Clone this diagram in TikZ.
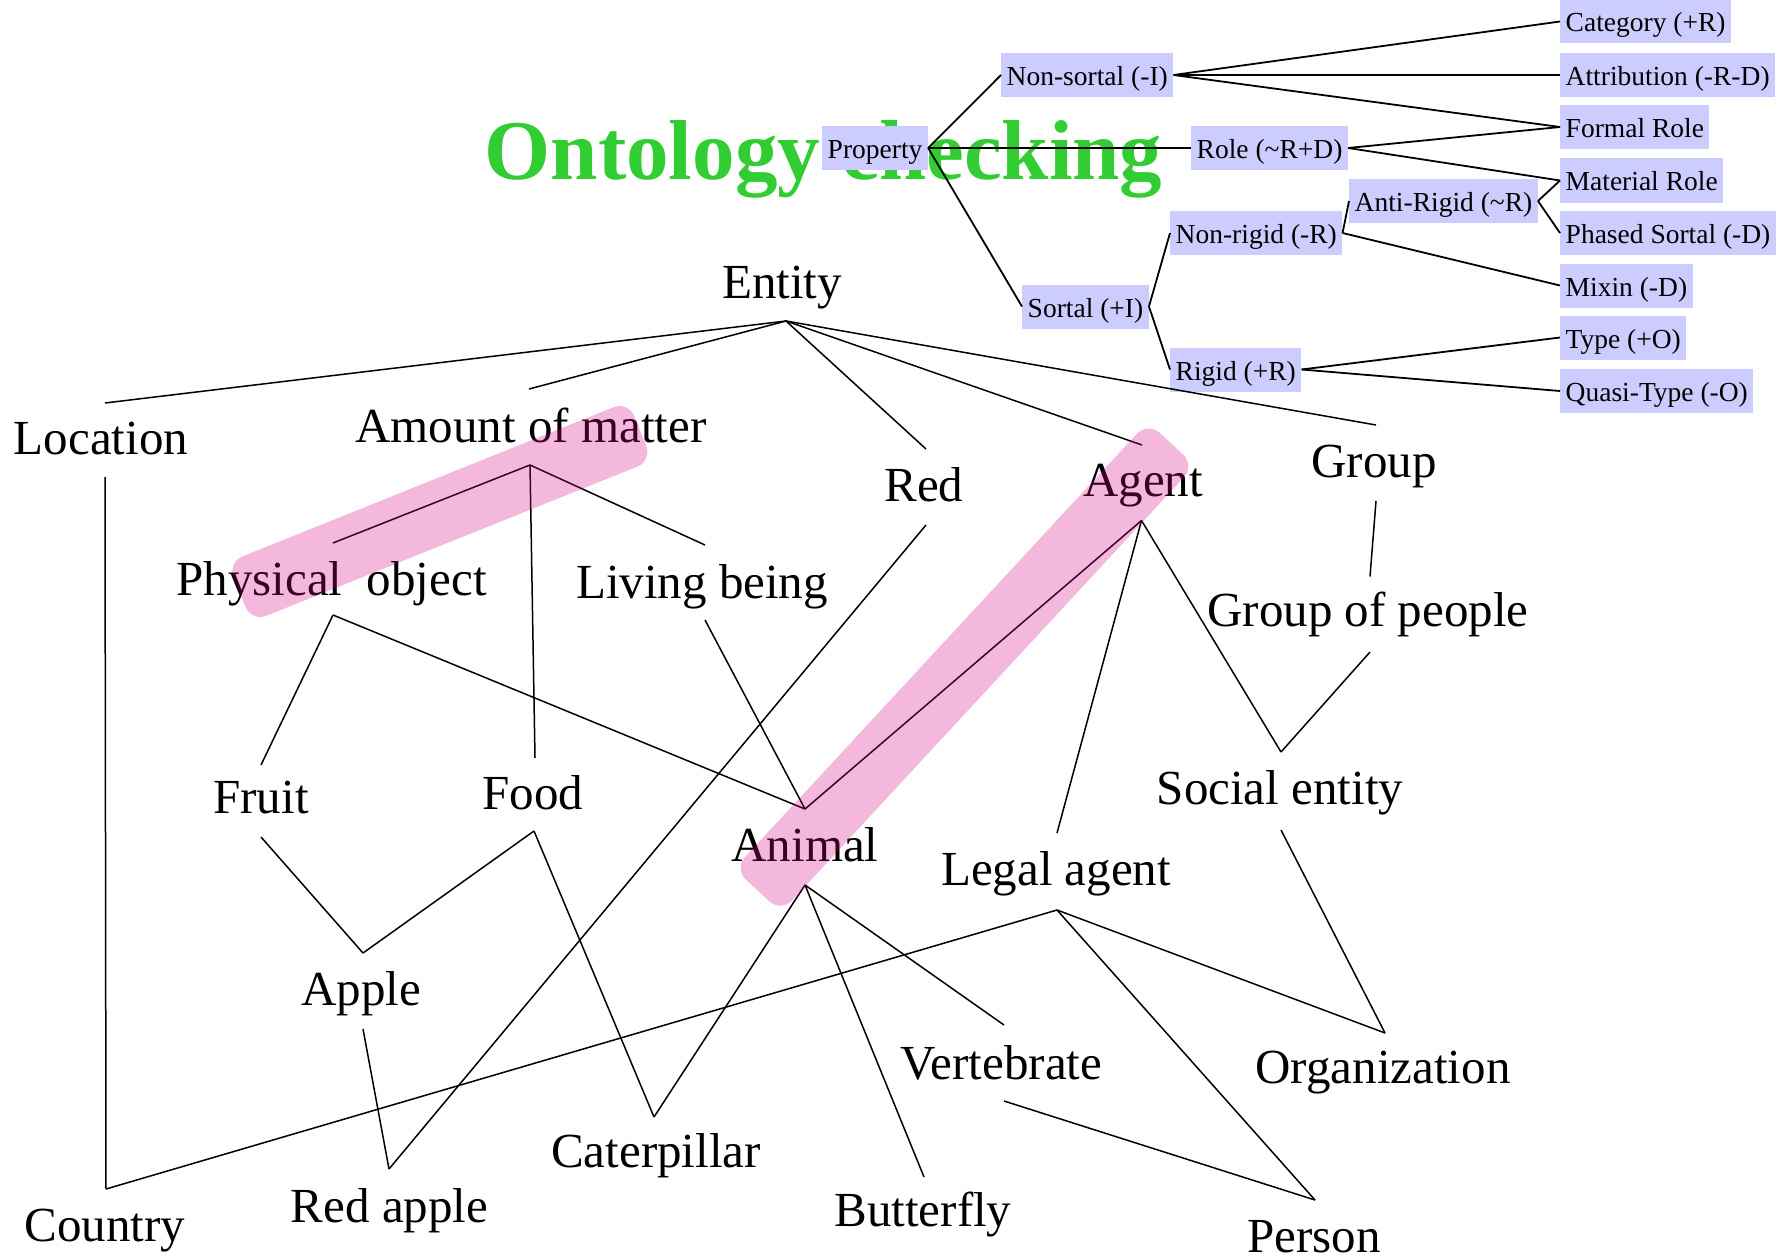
\documentclass[tikz,border=0pt]{standalone}
\usepackage{fontspec}
\setmainfont{Liberation Serif}
\definecolor{boxfill}{RGB}{204,204,255}
\definecolor{titlegreen}{RGB}{50,205,50}
\definecolor{bandpink}{RGB}{212,0,126}

\begin{document}
\begin{tikzpicture}[x=1pt,y=-1pt,
  lbl/.style={anchor=base, inner sep=0pt, font=\fontsize{49}{58}\selectfont},
  pbox/.style={anchor=west, fill=boxfill, inner xsep=5.5pt, inner ysep=7pt,
               text height=25.5pt, text depth=4.5pt, font=\fontsize{27.5}{32}\selectfont},
  edge/.style={draw=black, line width=1.5pt},
  tedge/.style={draw=black, line width=1.8pt},
  band/.style={fill=bandpink, fill opacity=0.28, rounded corners=16pt,
               inner sep=0pt, minimum height=64pt}
]
\useasboundingbox (0,0) rectangle (1779,1260);

% heading
\node[anchor=base west, inner sep=0pt, text=titlegreen,
      font=\bfseries\fontsize{85}{100}\selectfont] (title) at (484.5,179) {Ontology checking};

% property taxonomy
\node[pbox] (property)     at (822,148)   {Property};
\node[pbox] (nonsortal)    at (1001,75)   {Non-sortal (-I)};
\node[pbox] (role)         at (1191,148)  {Role (\textasciitilde R+D)};
\node[pbox] (sortal)       at (1022,306.5){Sortal (+I)};
\node[pbox] (nonrigid)     at (1170,233)  {Non-rigid (-R)};
\node[pbox] (antirigid)    at (1349,201)  {Anti-Rigid (\textasciitilde R)};
\node[pbox] (rigid)        at (1170,369.5){Rigid (+R)};
\node[pbox] (category)     at (1560,21.5) {Category (+R)};
\node[pbox] (attribution)  at (1560,75)   {Attribution (-R-D)};
\node[pbox] (formalrole)   at (1560,127)  {Formal Role};
\node[pbox] (materialrole) at (1560,180.5){Material Role};
\node[pbox] (phasedsortal) at (1560,233)  {Phased Sortal (-D)};
\node[pbox] (mixin)        at (1560,285.5){Mixin (-D)};
\node[pbox] (typeo)        at (1560,337.5){Type (+O)};
\node[pbox] (quasitype)    at (1560,391)  {Quasi-Type (-O)};

\draw[tedge] (property.east) -- (nonsortal.west);
\draw[tedge] (property.east) -- (role.west);
\draw[tedge] (property.east) -- (sortal.west);
\draw[tedge] (nonsortal.east) -- (category.west);
\draw[tedge] (nonsortal.east) -- (attribution.west);
\draw[tedge] (nonsortal.east) -- (formalrole.west);
\draw[tedge] (role.east) -- (formalrole.west);
\draw[tedge] (role.east) -- (materialrole.west);
\draw[tedge] (sortal.east) -- (nonrigid.west);
\draw[tedge] (sortal.east) -- (rigid.west);
\draw[tedge] (nonrigid.east) -- (antirigid.west);
\draw[tedge] (nonrigid.east) -- (mixin.west);
\draw[tedge] (antirigid.east) -- (materialrole.west);
\draw[tedge] (antirigid.east) -- (phasedsortal.west);
\draw[tedge] (rigid.east) -- (typeo.west);
\draw[tedge] (rigid.east) -- (quasitype.west);

% concept graph labels
\node[lbl] (entity)    at (782,298)    {Entity};
\node[lbl] (location)  at (101,454)    {Location};
\node[lbl] (amount)    at (531,442)    {Amount of matter};
\node[lbl] (red)       at (924,501)    {Red};
\node[lbl] (agent)     at (1143,496)   {Agent};
\node[lbl] (group)     at (1374,477)   {Group};
\node[lbl] (physical)  at (331.5,595)  {Physical\ \ object};
\node[lbl] (living)    at (702,598)    {Living being};
\node[lbl] (people)    at (1368,626)   {Group of people};
\node[lbl] (fruit)     at (261,813)    {Fruit};
\node[lbl] (food)      at (533,809)    {Food};
\node[lbl] (animal)    at (805,861)    {Animal};
\node[lbl] (social)    at (1280,804)   {Social entity};
\node[lbl] (legal)     at (1056,885)   {Legal agent};
\node[lbl] (apple)     at (361,1005)   {Apple};
\node[lbl] (vertebrate) at (1001.5,1079){Vertebrate};
\node[lbl] (organization) at (1383,1083){Organization};
\node[lbl] (caterpillar) at (656,1167)  {Caterpillar};
\node[lbl] (redapple)  at (389.5,1222) {Red apple};
\node[lbl] (butterfly) at (923,1226)   {Butterfly};
\node[lbl] (country)   at (105,1241)   {Country};
\node[lbl] (person)    at (1314,1252)  {Person};

% attachment points above (N) and below (S) the labels
\coordinate (entityS)   at (786,321);
\coordinate (locationN) at (105,403);
\coordinate (locationS) at (105,477);
\coordinate (amountN)   at (529,389);
\coordinate (amountS)   at (530,465);
\coordinate (redN)      at (926,449);
\coordinate (redS)      at (926,525);
\coordinate (agentN)    at (1142,445);
\coordinate (agentS)    at (1141.5,520.5);
\coordinate (groupN)    at (1376,425);
\coordinate (groupS)    at (1376,501);
\coordinate (physicalN) at (333,543);
\coordinate (physicalS) at (333,615);
\coordinate (livingN)   at (705,545);
\coordinate (livingS)   at (705,620);
\coordinate (peopleN)   at (1370,576.5);
\coordinate (peopleS)   at (1370,652);
\coordinate (fruitN)    at (261,765);
\coordinate (fruitS)    at (261,837);
\coordinate (foodN)     at (535,758);
\coordinate (foodS)     at (534,831);
\coordinate (animalN)   at (805,809);
\coordinate (animalS)   at (805,885);
\coordinate (socialN)   at (1281,752);
\coordinate (socialS)   at (1281,830);
\coordinate (legalN)    at (1057,833);
\coordinate (legalS)    at (1057,910);
\coordinate (appleN)    at (363,953);
\coordinate (appleS)    at (363,1029);
\coordinate (vertebrateN) at (1004,1025);
\coordinate (vertebrateS) at (1004,1101);
\coordinate (organizationN) at (1385,1033);
\coordinate (caterpillarN) at (654,1117);
\coordinate (redappleN) at (389,1169);
\coordinate (butterflyN) at (924,1177);
\coordinate (countryN)  at (106,1189);
\coordinate (personN)   at (1315,1200);

% subsumption links
\draw[edge] (entityS) -- (locationN);
\draw[edge] (entityS) -- (amountN);
\draw[edge] (entityS) -- (redN);
\draw[edge] (entityS) -- (agentN);
\draw[edge] (entityS) -- (groupN);
\draw[edge] (amountS) -- (physicalN);
\draw[edge] (amountS) -- (foodN);
\draw[edge] (amountS) -- (livingN);
\draw[edge] (physicalS) -- (fruitN);
\draw[edge] (physicalS) -- (animalN);
\draw[edge] (livingS) -- (animalN);
\draw[edge] (redS) -- (redappleN);
\draw[edge] (agentS) -- (animalN);
\draw[edge] (agentS) -- (legalN);
\draw[edge] (agentS) -- (socialN);
\draw[edge] (groupS) -- (peopleN);
\draw[edge] (peopleS) -- (socialN);
\draw[edge] (locationS) -- (countryN);
\draw[edge] (fruitS) -- (appleN);
\draw[edge] (foodS) -- (appleN);
\draw[edge] (foodS) -- (caterpillarN);
\draw[edge] (appleS) -- (redappleN);
\draw[edge] (animalS) -- (caterpillarN);
\draw[edge] (animalS) -- (butterflyN);
\draw[edge] (animalS) -- (vertebrateN);
\draw[edge] (legalS) -- (countryN);
\draw[edge] (legalS) -- (organizationN);
\draw[edge] (legalS) -- (personN);
\draw[edge] (socialS) -- (organizationN);
\draw[edge] (vertebrateS) -- (personN);

% highlighted links
\node[band, rotate=21.9, minimum width=432pt] (band1) at (439.9,511.5) {};
\node[band, rotate=47.2, minimum width=609pt] (band2) at (964.5,667.1) {};
\end{tikzpicture}
\end{document}
